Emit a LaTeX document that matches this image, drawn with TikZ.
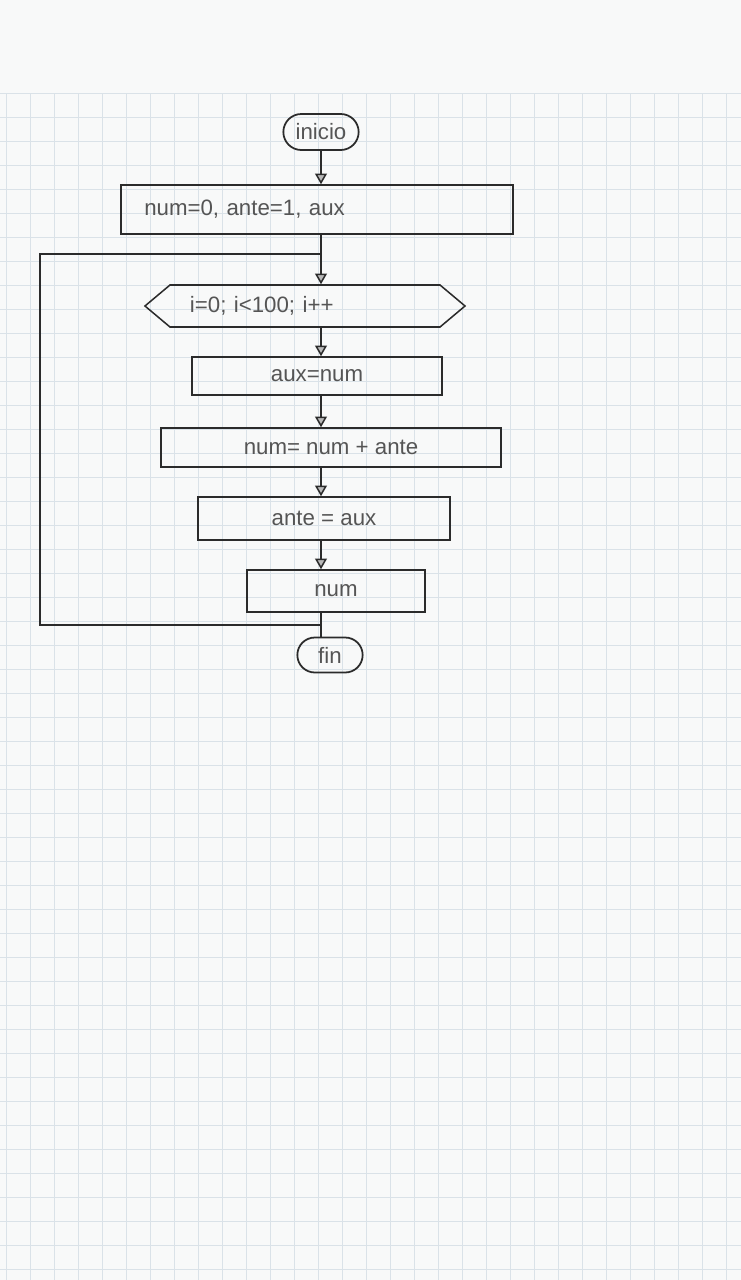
\documentclass[tikz,border=0pt]{standalone}
\usepackage{fontspec}
\setmainfont{Liberation Sans}
\usetikzlibrary{shapes.misc, shapes.symbols, arrows.meta}
\definecolor{tinta}{HTML}{2B2B2B}
\definecolor{papel}{HTML}{F8F9F9}
\definecolor{cuadro}{HTML}{DAE2E8}

\begin{document}
\begin{tikzpicture}[x=0.03cm, y=-0.03cm,
	letra/.style={font=\fontsize{19}{21}\selectfont, text=tinta!80},
	caja/.style={rectangle, draw=tinta, line width=1.3pt, letra},
	terminal/.style={rounded rectangle, draw=tinta, line width=1.5pt, letra},
	ciclo/.style={signal, signal to=west and east, signal pointer angle=80, draw=tinta, line width=1.3pt, letra},
	flecha/.style={draw=tinta, line width=1.3pt, -{Triangle[length=9pt, width=10pt, fill=gray!55]}},
	linea/.style={draw=tinta, line width=1.3pt}]
	\useasboundingbox (0,0) rectangle (741,1280);
	\fill[papel] (0,0) rectangle (741,1280);
	\foreach \y in {93,117,...,1280} \draw[cuadro, line width=0.5pt] (0,\y) -- (741,\y);
	\foreach \x in {6,30,...,741} \draw[cuadro, line width=0.5pt] (\x,93) -- (\x,1280);

	\node[terminal, minimum width=2.4cm, minimum height=1.08cm, inner xsep=2pt] (inicio) at (321,132) {inicio};
	\node[caja, minimum width=11.76cm, minimum height=1.47cm, inner xsep=0.7cm, text width=10.36cm, align=left] (init) at (317,209.5) {num=0, ante=1, aux};
	\node[ciclo, minimum height=1.26cm, inner xsep=0.6cm, text width=6.9cm, align=left] (hex) at (305,306) {i=0; i<100; i++};
	\node[caja, minimum width=7.5cm, minimum height=1.14cm] (aux) at (317,376) {aux=num};
	\node[caja, minimum width=10.2cm, minimum height=1.17cm] (suma) at (331,447.5) {num= num + ante};
	\node[caja, minimum width=7.56cm, minimum height=1.29cm] (ante) at (324,518.5) {ante = aux};
	\node[caja, minimum width=5.34cm, minimum height=1.26cm] (num) at (336,591) {num};
	\node[terminal, minimum width=2.1cm, minimum height=1.05cm, inner xsep=2pt] (fin) at (330,655) {fin};
	\coordinate (entrada) at (321,254);
	\coordinate (retorno) at (321,625);
	\coordinate (izq) at (40,440);

	\draw[flecha] (inicio.south) -- (inicio.south |- init.north);
	\draw[flecha] (init.south -| inicio) -- (hex.north -| inicio);
	\draw[flecha] (hex.south -| inicio) -- (aux.north -| inicio);
	\draw[flecha] (aux.south -| inicio) -- (suma.north -| inicio);
	\draw[flecha] (suma.south -| inicio) -- (ante.north -| inicio);
	\draw[flecha] (ante.south -| inicio) -- (num.north -| inicio);
	\draw[linea] (num.south -| inicio) -- (fin.north -| inicio);
	\draw[linea] (retorno) -| (izq) |- (entrada);
\end{tikzpicture}
\end{document}
